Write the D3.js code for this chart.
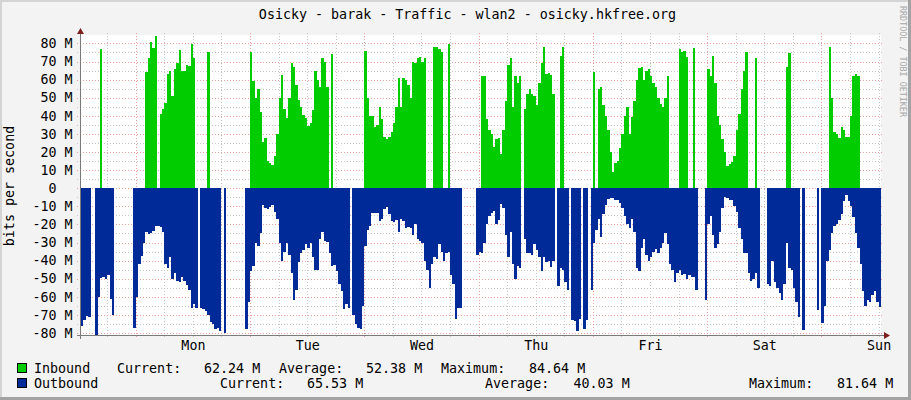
<!DOCTYPE html>
<html><head><meta charset="utf-8">
<script src="https://cdn.jsdelivr.net/npm/d3@7"></script>
<style>
html,body{margin:0;padding:0;background:#F3F3F3;}
svg{display:block;}
text{font-family:"DejaVu Sans Mono",monospace;}
</style></head><body>
<svg id="chart" width="911" height="400"></svg>
<script>
const _ = null;
const title = "Osicky - barak - Traffic - wlan2 - osicky.hkfree.org";
const yAxisTitle = "bits per second";
const watermark = "RRDTOOL / TOBI OETIKER";
const dayLabels = ["Mon","Tue","Wed","Thu","Fri","Sat","Sun"];
const dayLabelHours = [12,36,60,84,108,132,156];      // hours after Mon 00:00
const midnightHours = [0,24,48,72,96,120,144];
const minorHours = [-6,6,12,18,30,36,42,54,60,66,78,84,90,102,108,114,126,132,138,150,156];
const yTickValues = [-80,-70,-60,-50,-40,-30,-20,-10,0,10,20,30,40,50,60,70,80];
const yTickLabels = ["-80 M","-70 M","-60 M","-50 M","-40 M","-30 M","-20 M","-10 M","0","10 M","20 M","30 M","40 M","50 M","60 M","70 M","80 M"];
const yMinorValues = [-75,-65,-55,-45,-35,-25,-15,-5,5,15,25,35,45,55,65,75];
const timeDomain = [-11.5, 156.5];   // hours relative to Mon 00:00
const valueDomain = [-81.64, 84.64]; // Mbit/s
const sampleStartHour = -11.5;
const sampleStepHours = 0.5;

// Inbound (Mbit/s), one value per 30 minutes, null = no data
const inbound = [
 _,_,_,_,_,_,_,_,77,_,_,_,_,_,_,_,_,_,_,_,_,_,_,_,_,_,_,
 64,72,81,77.6,84,_,
 41,44,47,63,64.7,51,66,69.3,76.3,65,65,67.8,67.5,79.4,72,
 _,_,_,_,_,75.4,_,_,_,_,_,_,_,_,_,_,_,_,_,_,_,_,_,
 75,59,50,55,42,25.4,28,15,14,12.6,18,30,50,62.8,44,39,50,69,67,57,49,45,40.7,38.8,34.5,36,43,65,60,56,72,70,56,
 _,74,_,_,_,_,_,_,_,_,_,_,_,_,_,
 76,50,40,40,34,35,45,38,28.5,27,28.5,31,36,45,61,45,61,60,57,50,70,69,72,72.5,70,72,
 _,_,_,78,78,77,75,_,_,79.8,_,_,_,_,_,_,_,_,_,_,_,_,_,
 62,62,38,32,30,23,27,28,19,32,48,68,72,45,62,58,62,_,
 44,52,55,52,51,46,58,69,78,63,63.5,62.5,52,_,_,73,78,
 _,_,_,_,_,_,_,_,_,_,_,_,64,_,
 55,56,46,40,32,20,9,14,15,22,30,40,45,30,39.5,48,60,66.5,67,60,65,66,62,58,56,50,46.5,45,50,62,
 _,_,_,_,76.7,75,76,72.5,_,_,77.6,_,_,_,_,_,
 66,62,73,58,40,35,27,20,12,13.5,14.5,18,32,41,55,65,75,
 _,_,_,72,_,_,_,_,_,_,_,_,_,_,_,_,67,74.8,
 _,_,_,_,_,_,_,_,_,_,_,_,_,_,_,_,
 78,50,31,30,28,34,32.4,28.5,28.5,40,62,63,62.24,
 _,_,_,_,_,_,_,_,_
];
// Outbound (Mbit/s, drawn below zero), one value per 30 minutes
const outbound = [
 76,73,70.5,71,_,_,81,60,49.6,49,50,48,61,70,_,_,_,_,_,_,_,_,
 77,60,42,37.5,30,24,25.5,24.5,23.5,21,21,21.5,24,42,44,38,50,47,51,52,49,51,53.4,56,66,64,66,
 _,66,67,68,70,74,75,78,77,79,_,80,_,_,_,_,_,_,_,_,
 78,63,46,43,30,32,25,9.5,11,11.5,10.5,9,13,17,30,40,35,30,37,47,62,56,41,36,34,31,33,30,38,45,45,28,24,29,29.5,36,43,42.5,46,53,57,67,64,66,
 _,
 70,75,77.4,78,65,32,23,21,13.7,13.5,13.8,18,17,11.5,10.5,14,18,18.5,17.5,24,17,18,22,21.5,22,25.7,20,28,29,30,40,45,55,42,38,39,31,35,40,36,35,48,53,72,66,66,
 _,_,_,_,_,_,
 37,35,36,30,19.5,15.5,13.5,12.5,20,17.4,8.6,11,26,38,24,42,50,43,44,_,
 28,36,36,37,31,34,38,46,38,41,40,43.5,40,_,
 54,44,45,52,56,_,73,73.5,79,72,_,78,73,_,
 56,30,23,17,27,14,9.5,6,5.5,5.5,6.4,6.5,8,11,15.6,20,22,17,24,44,46,33,28,37,40,38,35,33.5,36,33,30,25,31,42,45,52,47,45,48,47.5,50,48,49,49,56,
 _,_,_,
 62,20,15.6,26,33,31,24,11,5,5.5,6.5,6.5,10,13,22,28,36,36,47,51,50,47,55,
 _,_,_,
 53,54,40,52,55,58,62,53,30,44,45,55,63,71,_,78.3,_,_,_,_,_,67.3,_,
 74.6,65,40,34,25,21,20,17.5,14,7,4,7,10,16,25,33,42,57,65,62,63,59,57,63,65.53
];
const seriesNames = ["Inbound","Outbound"];
const seriesColors = ["#00CC00","#002A97"];
const statLabels = ["Current:","Average:","Maximum:"];
const inboundStats = ["62.24 M","52.38 M","84.64 M"];
const outboundStats = ["65.53 M","40.03 M","81.64 M"];

const svg = d3.select("#chart");
const W = 911, H = 400;
const plot = {left:81, right:881, top:35, bottom:336};
const x = d3.scaleLinear().domain(timeDomain).range([plot.left, plot.right]);
const y = d3.scaleLinear().domain(valueDomain).range([plot.bottom, plot.top]);
const FS = "13.33px";
const charW = 8.03;

// frame
svg.append("rect").attr("width",W).attr("height",H).attr("fill","#F3F3F3");
svg.append("rect").attr("x",0).attr("y",0).attr("width",W).attr("height",2).attr("fill","#D4D4D4");
svg.append("rect").attr("x",0).attr("y",0).attr("width",2).attr("height",H).attr("fill","#D4D4D4");
svg.append("rect").attr("x",W-3).attr("y",0).attr("width",3).attr("height",H).attr("fill","#A3A3A3");
svg.append("rect").attr("x",0).attr("y",H-3).attr("width",W).attr("height",3).attr("fill","#A3A3A3");

// plot background
svg.append("rect").attr("x",plot.left).attr("y",plot.top)
  .attr("width",plot.right-plot.left).attr("height",plot.bottom-plot.top).attr("fill","#FFFFFF");

// grid
const grid = svg.append("g").attr("shape-rendering","crispEdges");
const minorCol = "#C6C6C6", majorCol = "#EBA0A0";
grid.selectAll("line.hmin").data(yMinorValues).join("line")
  .attr("x1",plot.left-4).attr("x2",plot.right+3)
  .attr("y1",d=>Math.round(y(d))+0.5).attr("y2",d=>Math.round(y(d))+0.5)
  .attr("stroke",minorCol).attr("stroke-dasharray","1,2");
grid.selectAll("line.vmin").data(minorHours).join("line")
  .attr("y1",plot.top-2).attr("y2",plot.bottom+3)
  .attr("x1",d=>Math.round(x(d))+0.5).attr("x2",d=>Math.round(x(d))+0.5)
  .attr("stroke",minorCol).attr("stroke-dasharray","1,2");
grid.selectAll("line.hmaj").data(yTickValues).join("line")
  .attr("x1",plot.left-4).attr("x2",plot.right+3)
  .attr("y1",d=>Math.round(y(d))+0.5).attr("y2",d=>Math.round(y(d))+0.5)
  .attr("stroke",majorCol).attr("stroke-dasharray","1,2");
grid.selectAll("line.vmaj").data(midnightHours).join("line")
  .attr("y1",plot.top-2).attr("y2",plot.bottom+3)
  .attr("x1",d=>Math.round(x(d))+0.5).attr("x2",d=>Math.round(x(d))+0.5)
  .attr("stroke",majorCol).attr("stroke-dasharray","1,2");

// areas
function stepPoints(vals, sign){
  const pts = [];
  vals.forEach((v,i)=>{
    const t0 = sampleStartHour + i*sampleStepHours, t1 = t0 + sampleStepHours;
    if (v === null) pts.push({t:t0, v:null});
    else { pts.push({t:t0, v:sign*v}); pts.push({t:t1, v:sign*v}); }
  });
  return pts;
}
const area = d3.area().defined(d=>d.v!==null)
  .x(d=>x(d.t)).y0(y(0)).y1(d=>y(d.v));
svg.append("path").attr("d",area(stepPoints(inbound,1))).attr("fill",seriesColors[0]).attr("shape-rendering","crispEdges");
svg.append("path").attr("d",area(stepPoints(outbound,-1))).attr("fill",seriesColors[1]).attr("shape-rendering","crispEdges");

// axis lines
const axisCol = "#7A7A7A", arrowCol = "#7D1F1F";
svg.append("line").attr("x1",plot.left-0.5).attr("x2",plot.left-0.5)
  .attr("y1",plot.top-3).attr("y2",plot.bottom+3).attr("stroke",axisCol);
svg.append("line").attr("x1",plot.left-4).attr("x2",plot.right+4)
  .attr("y1",plot.bottom-0.5).attr("y2",plot.bottom-0.5).attr("stroke",axisCol);
svg.append("path").attr("d",`M${plot.left-4},${plot.top-1}L${plot.left+3},${plot.top-1}L${plot.left-0.5},${plot.top-7}Z`).attr("fill",arrowCol);
svg.append("path").attr("d",`M${plot.right+3},${plot.bottom-4}L${plot.right+3},${plot.bottom+3}L${plot.right+9},${plot.bottom-0.5}Z`).attr("fill",arrowCol);

// y axis labels
const yAxis = d3.axisLeft(y).tickValues(yTickValues)
  .tickFormat((d,i)=>yTickLabels[i]).tickSize(0).tickPadding(8);
const gy = svg.append("g").attr("transform",`translate(${plot.left-0.5},0)`).call(yAxis);
gy.select(".domain").remove();
gy.selectAll("text").attr("font-size",FS).attr("fill","#000").attr("font-family","DejaVu Sans Mono");
// the "0" label sits in the number column (two character cells left of the unit column)
gy.selectAll(".tick").filter(d=>d===0).select("text").attr("dx",-2*charW);

// x axis labels
const xAxis = d3.axisBottom(x).tickValues(dayLabelHours)
  .tickFormat((d,i)=>dayLabels[i]).tickSize(0).tickPadding(5);
const gx = svg.append("g").attr("transform",`translate(0,${plot.bottom})`).call(xAxis);
gx.select(".domain").remove();
gx.selectAll("text").attr("font-size",FS).attr("fill","#000").attr("font-family","DejaVu Sans Mono");

// title
svg.append("text").attr("x",467.5).attr("y",19).attr("text-anchor","middle")
  .attr("font-size",FS).attr("fill","#000").text(title);

// y title
svg.append("text").attr("transform","translate(14,186) rotate(-90)")
  .attr("text-anchor","middle").attr("font-size",FS).attr("fill","#000").text(yAxisTitle);

// watermark
svg.append("text").attr("transform","translate(900,6) rotate(90)")
  .attr("font-size","8.4px").attr("fill","#A8A8A8").text(watermark);

// legend
const legendRows = [
  {name:seriesNames[0], color:seriesColors[0], stats:inboundStats, by:373, labelX:[117,279,441], valueX:[204,366,529]},
  {name:seriesNames[1], color:seriesColors[1], stats:outboundStats, by:388, labelX:[220,485,749], valueX:[307,573.5,837]}
];
legendRows.forEach(r=>{
  svg.append("rect").attr("x",17.5).attr("y",r.by-9.5).attr("width",9).attr("height",9)
    .attr("fill",r.color).attr("stroke","#000").attr("stroke-width",1);
  svg.append("text").attr("x",34).attr("y",r.by).attr("font-size",FS).attr("fill","#000").text(r.name);
  statLabels.forEach((s,i)=>{
    svg.append("text").attr("x",r.labelX[i]).attr("y",r.by).attr("font-size",FS).attr("fill","#000").text(s);
    svg.append("text").attr("x",r.valueX[i]).attr("y",r.by).attr("font-size",FS).attr("fill","#000").text(r.stats[i]);
  });
});
</script>
</body></html>
